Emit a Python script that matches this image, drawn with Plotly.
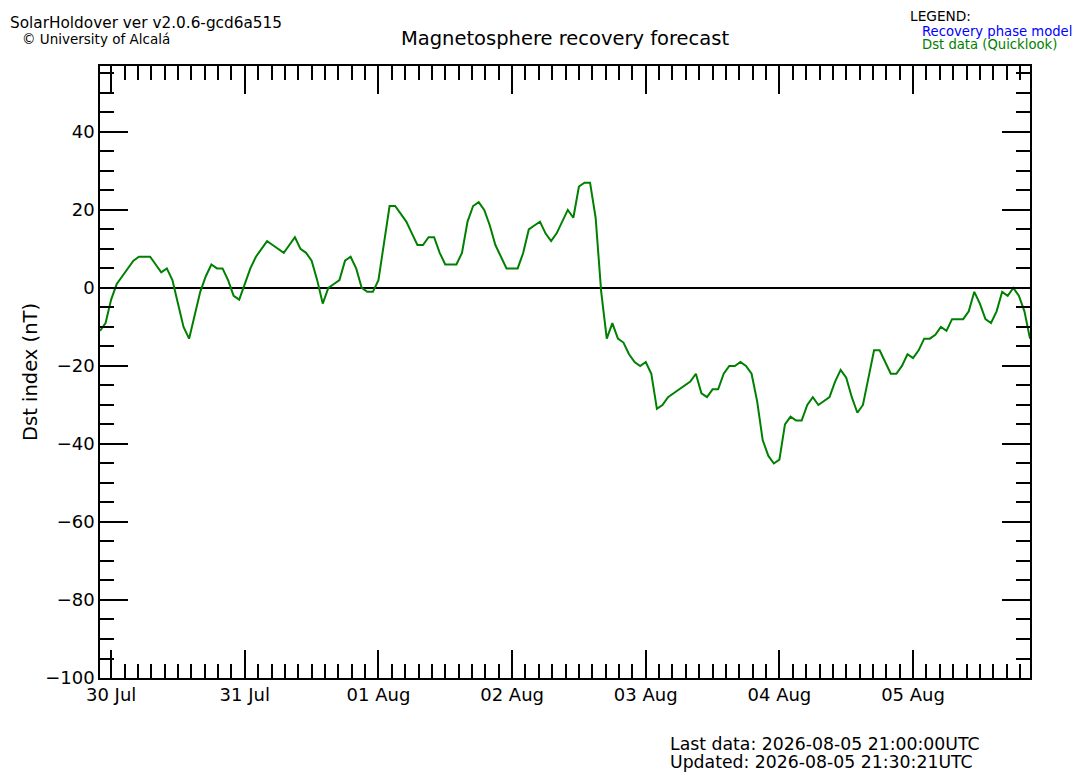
import plotly.graph_objects as go
import pandas as pd

# Dst hourly values (nT), first sample at 2026-07-29 22:00 UTC
start_time = "2026-07-29 22:00"
dst_values = [
    -11, -9, -3, 1, 3, 5, 7, 8, 8, 8,
    6, 4, 5, 2, -4, -10, -13, -7, -1, 3,
    6, 5, 5, 2, -2, -3, 1, 5, 8, 10,
    12, 11, 10, 9, 11, 13, 10, 9, 7, 2,
    -4, 0, 1, 2, 7, 8, 5, 0, -1, -1,
    2, 12, 21, 21, 19, 17, 14, 11, 11, 13,
    13, 9, 6, 6, 6, 9, 17, 21, 22, 20,
    16, 11, 8, 5, 5, 5, 9, 15, 16, 17,
    14, 12, 14, 17, 20, 18, 26, 27, 27, 18,
    -1, -13, -9, -13, -14, -17, -19, -20, -19, -22,
    -31, -30, -28, -27, -26, -25, -24, -22, -27, -28,
    -26, -26, -22, -20, -20, -19, -20, -22, -29, -39,
    -43, -45, -44, -35, -33, -34, -34, -30, -28, -30,
    -29, -28, -24, -21, -23, -28, -32, -30, -23, -16,
    -16, -19, -22, -22, -20, -17, -18, -16, -13, -13,
    -12, -10, -11, -8, -8, -8, -6, -1, -4, -8,
    -9, -6, -1, -2, 0, -2, -6, -13,
]
times = pd.date_range(start_time, periods=len(dst_values), freq="h")

x_range = ["2026-07-29 22:00", "2026-08-05 21:00"]
y_range = [-100, 56.9]

FONT = "DejaVu Sans"
OFF = 8  # page body margin in the browser

fig = go.Figure()
fig.add_trace(go.Scatter(
    x=times, y=dst_values, mode="lines",
    line=dict(color="#008000", width=2),
    showlegend=False, hoverinfo="x+y",
))

fig.update_layout(
    width=1067, height=766,
    margin=dict(l=92, r=45, t=58, b=96),
    paper_bgcolor="white", plot_bgcolor="white",
    font=dict(family=FONT, size=18, color="black"),
    title=dict(text="Magnetosphere recovery forecast", x=0.5, xref="paper",
               xanchor="center", y=1 - (38 - OFF) / 766, yanchor="middle",
               font=dict(size=19.5)),
)

fig.update_xaxes(
    type="date", range=x_range,
    showline=True, linecolor="black", linewidth=1.5, mirror="allticks",
    ticks="inside", ticklen=28, tickwidth=1.5, tickcolor="black",
    tick0="2026-07-30", dtick=86400000, tickformat="%d %b",
    tickfont=dict(size=18),
    minor=dict(ticks="inside", ticklen=14, tickwidth=1.5, tickcolor="black",
               tick0="2026-07-30", dtick=8640000, showgrid=False),
    showgrid=False, zeroline=False,
)
fig.update_yaxes(
    range=y_range,
    showline=True, linecolor="black", linewidth=1.5, mirror="allticks",
    ticks="inside", ticklen=28, tickwidth=1.5, tickcolor="black",
    tick0=0, dtick=20, tickfont=dict(size=18),
    minor=dict(ticks="inside", ticklen=14, tickwidth=1.5, tickcolor="black",
               dtick=5, showgrid=False),
    showgrid=False,
    zeroline=True, zerolinecolor="black", zerolinewidth=2,
    title=dict(text="Dst index (nT)", font=dict(size=19.5), standoff=2),
)


def note(text, px, py, size, color="black"):
    fig.add_annotation(
        text=text, xref="paper", yref="paper",
        x=(px - 100) / 930, y=(678 - py) / 612,
        xanchor="left", yanchor="middle", showarrow=False,
        font=dict(family=FONT, size=size, color=color),
    )


note("SolarHoldover ver v2.0.6-gcd6a515", 8, 23, 15.3)
note("© University of Alcalá", 20, 39, 13.5)
note("LEGEND:", 908, 16, 13.7)
note("Recovery phase model", 920, 32, 13.2, "#0000ff")
note("Dst data (Quicklook)", 920, 45, 13.2, "#008000")
note("Last data: 2026-08-05 21:00:00UTC", 668, 744, 17.3)
note("Updated: 2026-08-05 21:30:21UTC", 668, 762, 17.3)

fig.write_html("out.html")
